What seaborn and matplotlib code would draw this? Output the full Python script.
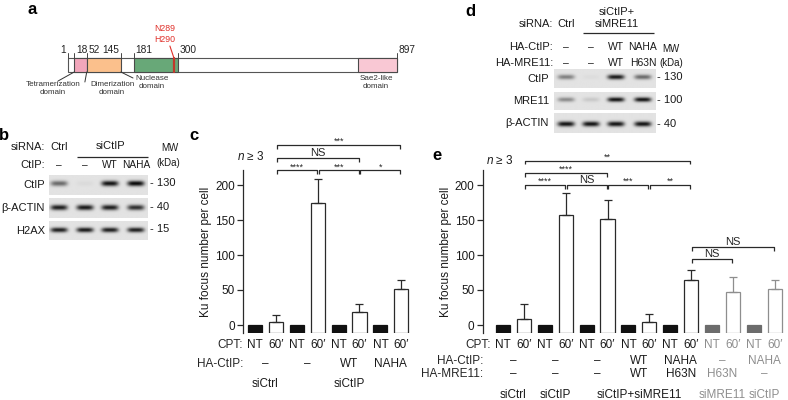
import numpy as np
import matplotlib
matplotlib.use("Agg")
import matplotlib.pyplot as plt
from matplotlib.patches import Rectangle
from matplotlib.transforms import blended_transform_factory
import seaborn as sns

sns.set_style("ticks")
plt.rcParams['font.family'] = ['Liberation Sans', 'DejaVu Sans']
plt.rcParams['mathtext.fontset'] = 'custom'
plt.rcParams['mathtext.it'] = 'Liberation Sans:italic'
plt.rcParams['mathtext.rm'] = 'Liberation Sans'

# ---------------- data ----------------
# a) CtIP domain map (residue numbers)
ctip_len = 897
dom_start = [18, 52, 181, 790]
dom_end = [52, 145, 300, 897]
dom_names = ["Tetramerization\ndomain", "Dimerization\ndomain", "Nuclease\ndomain", "Sae2-like\ndomain"]
res_ticks = [1, 18, 52, 145, 181, 300, 897]
mut_res = 289.5
mut_label = "N289\nH290"

# b) western blot
b_ctip = ["–", "–", "WT", "NAHA"]
b_rows = ["CtIP", "β-ACTIN", "H2AX"]
b_ctip_band = [0.55, 0.04, 0.95, 1.0]
b_actin_band = [0.9, 0.92, 0.9, 0.82]
b_h2ax_band = [0.9, 0.92, 0.9, 0.9]
b_mw = ["130", "40", "15"]

# c) Ku foci
c_cpt = ["NT", "60′"] * 4
c_ku = [0, 4, 0, 175, 0, 19, 0, 51]
c_ku_err = [0, 10, 0, 33, 0, 11, 0, 14]
c_ha_ctip = ["–", "–", "WT", "NAHA"]
c_sirna = ["siCtrl", "siCtIP"]
c_sirna_pairs = [(0, 0), (1, 3)]

# d) western blot
d_ha_ctip = ["–", "–", "WT", "NAHA"]
d_ha_mre11 = ["–", "–", "WT", "H63N"]
d_rows = ["CtIP", "MRE11", "β-ACTIN"]
d_ctip_band = [0.45, 0.03, 0.92, 0.55]
d_mre11_band = [0.4, 0.12, 0.95, 0.95]
d_actin_band = [0.95, 0.95, 0.95, 0.95]
d_mw = ["130", "100", "40"]

# e) Ku foci
e_cpt = ["NT", "60′"] * 7
e_ku = [0, 8, 0, 157, 0, 152, 0, 4, 0, 65, 0, 47, 0, 51]
e_ku_err = [0, 22, 0, 31, 0, 27, 0, 12, 0, 14, 0, 22, 0, 14]
e_ha_ctip = ["–", "–", "–", "WT", "NAHA", "–", "NAHA"]
e_ha_mre11 = ["–", "–", "–", "WT", "H63N", "H63N", "–"]
e_sirna = ["siCtrl", "siCtIP", "siCtIP+siMRE11", "siMRE11", "siCtIP"]
e_sirna_pairs = [(0, 0), (1, 1), (2, 4), (5, 5), (6, 6)]
e_gray_pairs = [False] * 5 + [True] * 2

# ---------------- layout helpers ----------------
W, H = 788, 400
DARK = "#2a2a2a"
GRAYTXT = "#8e8e8e"
GRAYFILL = "#6c6c6c"
fig = plt.figure(figsize=(W / 100, H / 100), dpi=100)


def px_axes(x0, y0, x1, y1):
    ax = fig.add_axes([x0 / W, 1 - y1 / H, (x1 - x0) / W, (y1 - y0) / H])
    ax.patch.set_visible(False)
    return ax


over = px_axes(0, 0, W, H)
over.set_xlim(0, W)
over.set_ylim(H, 0)
over.axis("off")
over.set_zorder(10)


def txt(x, y, s, **kw):
    kw.setdefault("fontsize", 8.5)
    kw.setdefault("ha", "center")
    kw.setdefault("va", "center")
    kw.setdefault("color", "#1a1a1a")
    over.text(x, y, s, **kw)


def hline(x0, x1, y, color=DARK, lw=0.9):
    over.plot([x0, x1], [y, y], color=color, lw=lw, solid_capstyle="butt")


# panel letters
for lab, (x, y) in zip("abcde", [(32, 10), (4, 135), (194, 135), (470, 12), (437, 155)]):
    txt(x, y, lab, fontsize=12, fontweight="bold", color="black")

# ---------------- a) domain map ----------------
axa = px_axes(68, 20, 397, 100)
axa.set_xlim(1, ctip_len)
axa.set_ylim(100, 20)
axa.axis("off")
axa.add_patch(Rectangle((1, 58), ctip_len - 1, 14, facecolor="white", edgecolor="#555555", lw=0.8, clip_on=False))
dom_colors = ["#f2a6bb", "#fbc08c", "#68a878", "#f9c8d4"]
for s, e, c in zip(dom_start, dom_end, dom_colors):
    axa.add_patch(Rectangle((s, 58), e - s, 14, facecolor=c, edgecolor="#4a4a4a", lw=0.8, clip_on=False))
axa.plot([mut_res, mut_res], [58, 72], color="#c0392b", lw=1.6, clip_on=False)
axa.plot([mut_res - 11, mut_res], [46, 58], color="#e0302a", lw=0.8, clip_on=False)
axa.text(mut_res - 25, 34, mut_label, color="#e0302a", fontsize=6.3, ha="center", va="center", linespacing=1.25)
tick_ha = ["right", "left", "left", "right", "left", "left", "left"]
for r, ha in zip(res_ticks, tick_ha):
    axa.plot([r, r], [53, 58], color="#444444", lw=0.7, clip_on=False)
    dx = -1.2 if ha == "right" else 1.2
    axa.annotate(str(r), (r, 55), xytext=(dx, 0), textcoords="offset points",
                 ha=ha, va="bottom", fontsize=7.3, color="#222222")
label_x = [-40, 121, 230, 840]
label_y = [81, 81, 75, 75]
leaders = [((18, 72), (-26, 81)), ((52, 72), (47, 82)), ((145, 72), (178, 78)), None]
for name, lx, ly, ld in zip(dom_names, label_x, label_y, leaders):
    axa.text(lx, ly, name, fontsize=5.8, ha="center", va="top", linespacing=1.3, color="#333333")
    if ld is not None:
        axa.plot([ld[0][0], ld[1][0]], [ld[0][1], ld[1][1]], color="#333333", lw=0.7, clip_on=False)


# ---------------- blots ----------------
def blot(x0, y0, x1, y1, lanes_px, bands, band_y, band_h=0.13, band_w=17):
    ax = px_axes(x0, y0, x1, y1)
    xs = np.linspace(x0, x1, 260)
    ys = np.linspace(0, 1, 60)
    vert = np.exp(-((ys - band_y) / band_h) ** 2)
    dark = np.zeros((ys.size, xs.size))
    for lx, b in zip(lanes_px, bands):
        horiz = np.exp(-np.abs((xs - lx) / (band_w / 2)) ** 4)
        dark += b * np.outer(vert, horiz)
    img = 0.89 - 0.86 * np.clip(dark, 0, 1)
    ax.imshow(img, cmap="gray", vmin=0, vmax=1, extent=(x0, x1, 1, 0),
              aspect="auto", interpolation="bilinear")
    ax.axis("off")


BL = 8.0   # blot panel font size

# b)
b_lane_px = [59, 85, 110, 136]
txt(45, 147, "siRNA:", ha="right", fontsize=BL)
txt(b_lane_px[0], 147, "Ctrl", fontsize=BL)
txt(np.mean(b_lane_px[1:]), 146, "siCtIP", fontsize=BL)
hline(77, 148, 156.5)
txt(45, 165, "CtIP:", ha="right", fontsize=BL)
for x, s in zip(b_lane_px, b_ctip):
    txt(x, 165, s, fontsize=7.3)
txt(170, 148, "MW", fontsize=7)
txt(168, 163, "(kDa)", fontsize=7)
b_boxes = [(175, 195), (198, 218), (221, 240)]
b_bands = [b_ctip_band, b_actin_band, b_h2ax_band]
b_band_y = [0.45, 0.5, 0.47]
for (y0, y1), name, bands, by, mw in zip(b_boxes, b_rows, b_bands, b_band_y, b_mw):
    blot(49, y0, 148, y1, b_lane_px, bands, by)
    txt(45, (y0 + y1) / 2, name, ha="right", fontsize=BL)
    txt(150, y0 + by * (y1 - y0) - 1, "- " + mw, ha="left", fontsize=BL)

# d)
d_lane_px = [566, 591, 616, 643]
txt(553, 24, "siRNA:", ha="right", fontsize=BL)
txt(d_lane_px[0], 24, "Ctrl", fontsize=BL)
txt(np.mean(d_lane_px[1:]), 12, "siCtIP+", fontsize=BL)
txt(np.mean(d_lane_px[1:]), 24, "siMRE11", fontsize=BL)
hline(583, 654, 33)
txt(553, 47, "HA-CtIP:", ha="right", fontsize=BL)
txt(553, 63, "HA-MRE11:", ha="right", fontsize=BL)
for x, s1, s2 in zip(d_lane_px, d_ha_ctip, d_ha_mre11):
    txt(x, 47, s1, fontsize=7.5)
    txt(x, 63, s2, fontsize=7.5)
txt(671, 49, "MW", fontsize=7)
txt(671, 63, "(kDa)", fontsize=7)
d_boxes = [(69, 88), (92, 110), (113, 133)]
d_bands = [d_ctip_band, d_mre11_band, d_actin_band]
d_band_y = [0.42, 0.42, 0.55]
for (y0, y1), name, bands, by, mw in zip(d_boxes, d_rows, d_bands, d_band_y, d_mw):
    blot(554, y0, 656, y1, d_lane_px, bands, by)
    txt(549, (y0 + y1) / 2, name, ha="right", fontsize=BL)
    txt(657, y0 + by * (y1 - y0), "- " + mw, ha="left", fontsize=BL)

# ---------------- bar panels ----------------
SP = 20.9          # px between bars
BASE = -11         # axis baseline, bars start here
Y_TOP, Y_BOT = 170.3, 332.7
YMAX = 221


def bar_panel(bar0_px, xlim, vals, errs, gray_pairs):
    n = len(vals)
    ax = px_axes(bar0_px + xlim[0] * SP, Y_TOP, bar0_px + xlim[1] * SP, Y_BOT)
    gray = [gray_pairs[i // 2] for i in range(n)]
    fills = []
    for i in range(n):
        if i % 2 == 0:
            fills.append(GRAYFILL if gray[i] else "#111111")
        else:
            fills.append("white")
    edges = [(GRAYTXT if gray[i] else DARK) if i % 2 else fills[i] for i in range(n)]
    names = [str(i) for i in range(n)]
    sns.barplot(x=names, y=np.array(vals, dtype=float) - BASE, hue=names, palette=fills,
                legend=False, width=0.67, bottom=BASE, linewidth=0.9, ax=ax)
    for p, ec in zip(ax.patches, edges):
        p.set_edgecolor(ec)
    for i in range(n):
        if errs[i] > 0:
            ax.errorbar(i, vals[i], yerr=[[0], [errs[i]]], fmt="none", ecolor=edges[i],
                        elinewidth=0.9, capsize=3, capthick=0.9)
    ax.set_xlim(*xlim)
    ax.set_ylim(BASE, YMAX)
    sns.despine(ax=ax, bottom=True)
    ax.spines["left"].set_color(DARK)
    ax.spines["left"].set_linewidth(0.9)
    ax.set_xticks([])
    ax.set_yticks([0, 50, 100, 150, 200])
    ax.tick_params(axis="y", length=4, width=0.9, color=DARK, labelsize=8.5, pad=2, labelcolor="#1a1a1a")
    ax.set_xlabel("")
    ax.set_ylabel("")
    return ax


def bracket(ax, i0, i1, y, label, drop=5.5):
    s = 0.04
    ax.plot([i0 + s, i0 + s, i1 - s, i1 - s], [y - drop, y, y, y - drop], color=DARK, lw=0.9,
            clip_on=False, solid_capstyle="butt")
    if label == "NS":
        ax.text((i0 + i1) / 2, y + 0.5, label, ha="center", va="bottom", fontsize=8, clip_on=False)
    else:
        ax.text((i0 + i1) / 2, y - 1.5, label, ha="center", va="bottom", fontsize=6.5, clip_on=False)


def group_row(ax, names, pairs, line_y, text_y, gray_pairs):
    tr = blended_transform_factory(ax.transData, over.transData)
    for name, (p0, p1) in zip(names, pairs):
        col = GRAYTXT if gray_pairs[p0] else "#1a1a1a"
        ax.plot([2 * p0 - 0.38, 2 * p1 + 1.38], [line_y] * 2, transform=tr, color=col, lw=0.9)
        ax.text((2 * p0 + 2 * p1 + 1) / 2, text_y, name, transform=tr, ha="center", va="center",
                fontsize=8.5, color=col)


def cpt_rows(ax, cpt, rows, row_y, cpt_x, row_x, line_y, gray_pairs):
    tr = blended_transform_factory(ax.transData, over.transData)
    for i, s in enumerate(cpt):
        col = GRAYTXT if gray_pairs[i // 2] else "#1a1a1a"
        ax.text(i, 345, s, transform=tr, ha="center", va="center", fontsize=8.5, color=col)
    ax.text(cpt_x, 345, "CPT:", transform=tr, ha="right", va="center", fontsize=8.5)
    for p in range(len(cpt) // 2):
        col = GRAYTXT if gray_pairs[p] else DARK
        ax.plot([2 * p - 0.38, 2 * p + 1.38], [line_y] * 2, transform=tr, color=col, lw=0.9)
    for (name, vals), y in zip(rows, row_y):
        ax.text(row_x, y, name, transform=tr, ha="right", va="center", fontsize=8.5)
        for p, v in enumerate(vals):
            col = GRAYTXT if gray_pairs[p] else "#1a1a1a"
            ax.text(2 * p + 0.5, y, v, transform=tr, ha="center", va="center", fontsize=8.5, color=col)


# c)
c_gray = [False] * 4
axc = bar_panel(255, (-0.57, 7.55), c_ku, c_ku_err, c_gray)
for i0, i1, lab, y in [(1, 3, "****", 221), (3, 5, "***", 221), (5, 7, "*", 221),
                       (1, 5, "NS", 238), (1, 7, "***", 257)]:
    bracket(axc, i0, i1, y, lab)
txt(265, 156, r"$n$ ≥ 3", ha="right", fontsize=8.5)
txt(206, 252, "Ku focus number per cell", rotation=90)
cpt_rows(axc, c_cpt, [("HA-CtIP:", c_ha_ctip)], [364], -0.57, -0.57, 354, c_gray)
group_row(axc, c_sirna, c_sirna_pairs, 373, 384, c_gray)

# e)
axe = bar_panel(503, (-0.96, 13.6), e_ku, e_ku_err, e_gray_pairs)
for i0, i1, lab, y in [(1, 3, "****", 200), (3, 5, "NS", 200), (5, 7, "***", 200), (7, 9, "**", 200),
                       (1, 5, "****", 217), (1, 9, "**", 235), (9, 11, "NS", 94), (9, 13, "NS", 111)]:
    bracket(axe, i0, i1, y, lab)
txt(514, 160, r"$n$ ≥ 3", ha="right", fontsize=8.5)
txt(446, 252, "Ku focus number per cell", rotation=90)
cpt_rows(axe, e_cpt, [("HA-CtIP:", e_ha_ctip), ("HA-MRE11:", e_ha_mre11)], [361, 374],
         -0.6, -0.96, 353, e_gray_pairs)
group_row(axe, e_sirna, e_sirna_pairs, 384, 395, e_gray_pairs)

fig.savefig("out.png", dpi=100)
